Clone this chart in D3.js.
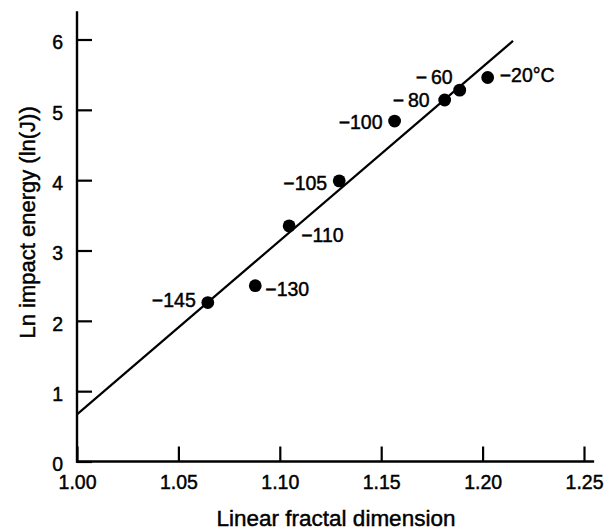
<!DOCTYPE html>
<html>
<head>
<meta charset="utf-8">
<script src="https://cdn.jsdelivr.net/npm/d3@7"></script>
<style>
  body { margin: 0; background: #fff; }
  svg text { font-family: "Liberation Sans", Arial, Helvetica, sans-serif; fill: #000; stroke: #000; stroke-width: 0.45px; }
</style>
</head>
<body>
<div id="chart"></div>
<script>
// data
const tempLabels = ["\u2212145", "\u2212130", "\u2212110", "\u2212105", "\u2212100", "\u2212\u200980", "\u2212\u200960", "\u221220\u00b0C"];
const fractalDim = [1.0645, 1.0879, 1.1046, 1.1293, 1.1566, 1.1813, 1.1887, 1.2025];
const lnEnergy = [2.26, 2.50, 3.35, 3.99, 4.84, 5.14, 5.28, 5.46];
const fitX = [1.00, 1.215];
const fitY = [0.67, 5.98];
const xTicks = [1.00, 1.05, 1.10, 1.15, 1.20, 1.25];
const yTicks = [0, 1, 2, 3, 4, 5, 6];

// where each temperature label sits relative to its dot
const labelPlace = [
  { anchor: "end", dx: -12, dy: 4 },
  { anchor: "start", dx: 10, dy: 10 },
  { anchor: "start", dx: 12, dy: 16 },
  { anchor: "end", dx: -12, dy: 9 },
  { anchor: "end", dx: -12, dy: 8 },
  { anchor: "end", dx: -15, dy: 7 },
  { anchor: "end", dx: -7, dy: -6 },
  { anchor: "start", dx: 12, dy: 5 }
];

const W = 609, H = 530;
const svg = d3.select("#chart").append("svg")
  .attr("width", W)
  .attr("height", H);

const x = d3.scaleLinear().domain([1.00, 1.25]).range([77, 584]);
const y = d3.scaleLinear().domain([0, 6]).range([461.5, 39.5]);

// x axis
const gx = svg.append("g")
  .attr("transform", `translate(0,${y(0)})`)
  .call(d3.axisBottom(x).tickValues(xTicks).tickFormat(d3.format(".2f")).tickSizeInner(-15).tickSizeOuter(0));
gx.select(".domain").remove();
gx.selectAll(".tick line").attr("stroke", "#000").attr("stroke-width", 2.2);
gx.selectAll(".tick text")
  .attr("y", 27).attr("dy", 0)
  .style("font-size", "19.5px");
gx.append("line")
  .attr("x1", x(1.00) - 1).attr("x2", x(1.255))
  .attr("stroke", "#000").attr("stroke-width", 2.4);

// y axis
const gy = svg.append("g")
  .attr("transform", `translate(${x(1.00)},0)`)
  .call(d3.axisLeft(y).tickValues(yTicks).tickFormat(d3.format("d")).tickSizeInner(-15).tickSizeOuter(0));
gy.select(".domain").remove();
gy.selectAll(".tick line").attr("stroke", "#000").attr("stroke-width", 2.2);
gy.selectAll(".tick text")
  .attr("x", -14).attr("dy", "0.47em")
  .style("font-size", "19.5px");
gy.append("line")
  .attr("y1", y(0) + 1.2).attr("y2", y(6.4))
  .attr("stroke", "#000").attr("stroke-width", 2.4);

// titles
svg.append("text")
  .attr("x", 336)
  .attr("y", 526)
  .attr("text-anchor", "middle")
  .style("font-size", "22.5px")
  .text("Linear fractal dimension");

svg.append("text")
  .attr("transform", `translate(35,${y(3.4)}) rotate(-90)`)
  .attr("text-anchor", "middle")
  .style("font-size", "22px")
  .text("Ln impact energy (ln(J))");

// fitted line
const pts = fractalDim.map((d, i) => ({ fd: d, e: lnEnergy[i], label: tempLabels[i], place: labelPlace[i] }));

svg.append("line")
  .attr("x1", x(fitX[0])).attr("y1", y(fitY[0]))
  .attr("x2", x(fitX[1])).attr("y2", y(fitY[1]))
  .attr("stroke", "#000").attr("stroke-width", 2.2);

svg.selectAll("circle.pt")
  .data(pts)
  .enter()
  .append("circle")
  .attr("class", "pt")
  .attr("cx", d => x(d.fd))
  .attr("cy", d => y(d.e))
  .attr("r", 6.4)
  .attr("fill", "#000");

svg.selectAll("text.pt-label")
  .data(pts)
  .enter()
  .append("text")
  .attr("class", "pt-label")
  .attr("x", d => x(d.fd) + d.place.dx)
  .attr("y", d => y(d.e) + d.place.dy)
  .attr("text-anchor", d => d.place.anchor)
  .style("font-size", "19.5px")
  .text(d => d.label);
</script>
</body>
</html>
